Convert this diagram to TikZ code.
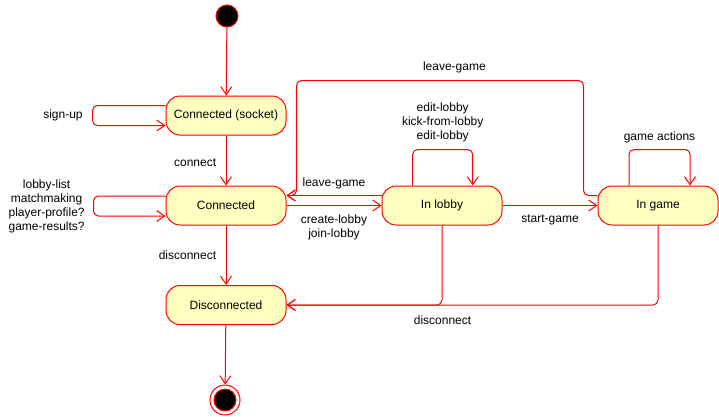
\documentclass[tikz,border=0pt]{standalone}
\usepackage{fontspec}
\setmainfont{Liberation Sans}
\usepackage{tikz}
\usetikzlibrary{arrows.meta}
\definecolor{umlred}{RGB}{255,0,0}
\definecolor{umlfill}{RGB}{255,255,192}
\tikzstyle{state}=[rectangle,rounded corners=14pt,draw=umlred,fill=umlfill,line width=1pt,minimum width=120pt,minimum height=39pt,inner sep=0pt]
\tikzstyle{start}=[circle,draw=umlred,fill=black,line width=1pt,minimum size=22pt,inner sep=0pt]
\tikzstyle{stop}=[circle,draw=umlred,line width=1pt,minimum size=30pt,inner sep=0pt]
\tikzstyle{trans}=[draw=umlred,line width=1pt,rounded corners=5pt,-{Straight Barb[length=8pt,width=11pt]}]

\begin{document}
\begin{tikzpicture}[x=1pt,y=-1pt,font=\fontsize{12}{14}\selectfont]
        \useasboundingbox (0,0) rectangle (719,416);
        \node[start] (init) at (227,16) {};
        \node[state] (socket) at (226,115.5) {Connected (socket)};
        \node[state] (conn) at (226,205.5) {Connected};
        \node[state] (lobby) at (442,205.5) {In lobby};
        \node[state] (game) at (658,205.5) {In game};
        \node[state] (disc) at (226,305) {Disconnected};
        \node[stop] (final) at (225,400) {};
        \node[start] (finaldot) at (final) {};
        \draw[trans] (init) to (socket);
        \draw[trans] (socket) -- node[left=6pt,yshift=-2pt] {connect} (conn);
        \draw[trans] (conn) -- node[left=6pt] {disconnect} (disc);
        \draw[trans] (disc) to (final);
        %\draw[trans] (disc) to (finaldot);
        \draw[trans] ([yshift=10pt]socket.west) -- ++(-73,0) -- node[left=6pt] {sign-up} ++(0,20) -- ([yshift=-10pt]socket.west);
        \draw[trans] ([yshift=9.5pt]conn.west) -- ++(-72,0) -- node[left=5pt,align=center] {lobby-list\\matchmaking\\player-profile?\\game-results?} ++(0,20) -- ([yshift=-10.5pt]conn.west);
        \draw[trans] ([yshift=10pt]game.west) -- ++(-14,0) -- ++(0,-115) -- node[pos=0.45,above=4pt] {leave-game} ++(-287,0) |- ([yshift=10pt]conn.east);
        \draw[trans] ([yshift=10pt]lobby.west) -- node[above=3pt] {leave-game} ([yshift=10pt]conn.east);
        \draw[trans] (conn.east) -- node[below=5pt,align=center] {create-lobby\\join-lobby} (lobby.west);
        \draw[trans] ([xshift=-29.3pt]lobby.north) -- ++(0,-36) -- node[above=4pt,align=center] {edit-lobby\\kick-from-lobby\\edit-lobby} ++(60,0) -- ([xshift=30.7pt]lobby.north);
        \draw[trans] (lobby) -- node[below=5pt] {start-game} (game);
        \draw[trans] ([xshift=-29pt]game.north) -- ++(0,-36) -- node[above=3pt] {game actions} ++(61,0) -- ([xshift=32pt]game.north);
        \draw[trans] (lobby.south) |- (disc.east);
        \draw[trans] (game.south) |- node[pos=0.79,below=7pt] {disconnect} (disc.east);
      \end{tikzpicture}
\end{document}
